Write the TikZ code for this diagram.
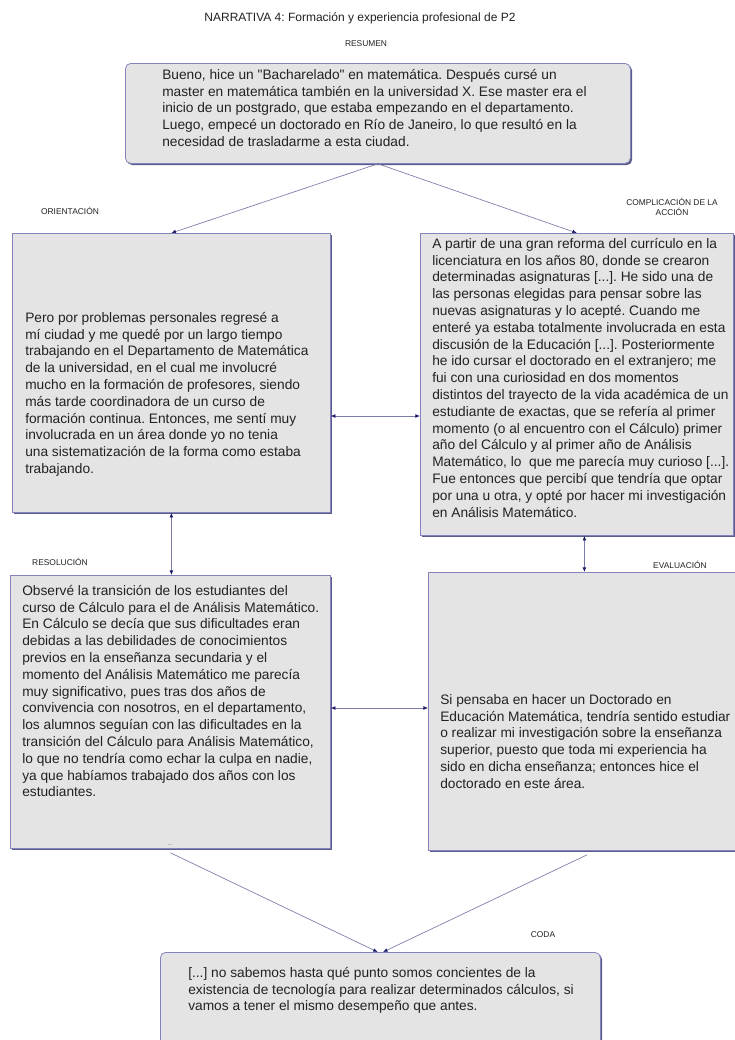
\documentclass[tikz,border=0pt]{standalone}
\usepackage{fontspec}
\setmainfont{Liberation Sans}
\usetikzlibrary{arrows.meta,shadows}
\frenchspacing

\definecolor{boxfill}{HTML}{E4E4E4}
\definecolor{boxline}{HTML}{8484BC}
\definecolor{boxshadow}{HTML}{5C5C8C}
\definecolor{linkline}{HTML}{7C7CA8}
\definecolor{tipcol}{HTML}{1C1C6A}
\definecolor{inktext}{HTML}{222222}

\tikzset{
  box/.style={draw=boxline, fill=boxfill, line width=0.6pt, inner sep=0pt,
    anchor=north west,
    drop shadow={shadow xshift=1.3pt, shadow yshift=-1.3pt, fill=boxshadow, opacity=1}},
  roundbox/.style={box, rounded corners=4pt},
  bodytext/.style={inner sep=0pt, align=left, anchor=north west, text=inktext,
    font=\fontsize{10.3}{12.6}\selectfont},
  partlabel/.style={inner sep=0pt, align=center, text=inktext,
    font=\fontsize{6.3}{7.8}\selectfont},
  headtitle/.style={inner sep=0pt, text=inktext, font=\fontsize{9}{11}\selectfont},
  tip/.tip={Latex[length=3.4pt,width=2.8pt,color=tipcol]},
  link/.style={draw=linkline, line width=0.5pt, -tip},
  twoway/.style={draw=linkline, line width=0.5pt, tip-tip},
}

\begin{document}
\begin{tikzpicture}[x=0.75pt,y=-0.75pt]
\useasboundingbox[fill=white] (0,0) rectangle (735,1040);

% headings
\node[headtitle] (title) at (360,18) {NARRATIVA 4: Formación y experiencia profesional de P2};
\node[partlabel] (lresumen) at (366,44) {RESUMEN};
\node[partlabel] (lorient) at (70,211) {ORIENTACIÓN};
\node[partlabel] (lcompl) at (672,207) {COMPLICACIÓN DE LA\\ACCIÓN};
\node[partlabel] (lresol) at (60,562) {RESOLUCIÓN};
\node[partlabel] (leval) at (680,565) {EVALUACIÓN};
\node[partlabel] (lcoda) at (543,935) {CODA};

% boxes
\node[roundbox, minimum width={505*0.75pt}, minimum height={100*0.75pt}] (resumen) at (125,63) {};
\node[box, minimum width={318*0.75pt}, minimum height={279*0.75pt}] (orient) at (12,233) {};
\node[box, minimum width={313*0.75pt}, minimum height={302*0.75pt}] (compl) at (420,233) {};
\node[box, minimum width={320*0.75pt}, minimum height={273*0.75pt}] (resol) at (10,575) {};
\node[box, minimum width={312*0.75pt}, minimum height={278*0.75pt}] (eval) at (428,572) {};
\node[roundbox, minimum width={440*0.75pt}, minimum height={110*0.75pt}] (coda) at (160,952) {};

% box texts
\node[bodytext] (tresumen) at (162,69) {Bueno, hice un \textquotedbl Bacharelado\textquotedbl{} en matemática. Después cursé un\\
master en matemática también en la universidad X. Ese master era el\\
inicio de un postgrado, que estaba empezando en el departamento.\\
Luego, empecé un doctorado en Río de Janeiro, lo que resultó en la\\
necesidad de trasladarme a esta ciudad.};

\node[bodytext] (torient) at (25,312) {Pero por problemas personales regresé a\\
mí ciudad y me quedé por un largo tiempo\\
trabajando en el Departamento de Matemática\\
de la universidad, en el cual me involucré\\
mucho en la formación de profesores, siendo\\
más tarde coordinadora de un curso de\\
formación continua. Entonces, me sentí muy\\
involucrada en un área donde yo no tenia\\
una sistematización de la forma como estaba\\
trabajando.};

\node[bodytext] (tcompl) at (432,238) {A partir de una gran reforma del currículo en la\\
licenciatura en los años 80, donde se crearon\\
determinadas asignaturas [...]. He sido una de\\
las personas elegidas para pensar sobre las\\
nuevas asignaturas y lo acepté. Cuando me\\
enteré ya estaba totalmente involucrada en esta\\
discusión de la Educación [...]. Posteriormente\\
he ido cursar el doctorado en el extranjero; me\\
fui con una curiosidad en dos momentos\\
distintos del trayecto de la vida académica de un\\
estudiante de exactas, que se refería al primer\\
momento (o al encuentro con el Cálculo) primer\\
año del Cálculo y al primer año de Análisis\\
Matemático, lo\ \ que me parecía muy curioso [...].\\
Fue entonces que percibí que tendría que optar\\
por una u otra, y opté por hacer mi investigación\\
en Análisis Matemático.};

\node[bodytext] (tresol) at (22,585) {Observé la transición de los estudiantes del\\
curso de Cálculo para el de Análisis Matemático.\\
En Cálculo se decía que sus dificultades eran\\
debidas a las debilidades de conocimientos\\
previos en la enseñanza secundaria y el\\
momento del Análisis Matemático me parecía\\
muy significativo, pues tras dos años de\\
convivencia con nosotros, en el departamento,\\
los alumnos seguían con las dificultades en la\\
transición del Cálculo para Análisis Matemático,\\
lo que no tendría como echar la culpa en nadie,\\
ya que habíamos trabajado dos años con los\\
estudiantes.};

\node[bodytext] (teval) at (440,694) {Si pensaba en hacer un Doctorado en\\
Educación Matemática, tendría sentido estudiar\\
o realizar mi investigación sobre la enseñanza\\
superior, puesto que toda mi experiencia ha\\
sido en dicha enseñanza; entonces hice el\\
doctorado en este área.};

\node[bodytext] (tcoda) at (188,967) {[...] no sabemos hasta qué punto somos concientes de la\\
existencia de tecnología para realizar determinados cálculos, si\\
vamos a tener el mismo desempeño que antes.};

\node[inner sep=0pt, text=inktext, font=\fontsize{3.5}{4}\selectfont] (dots) at (170,845) {...};

% connectors
\coordinate (rowA) at (0,416);
\coordinate (rowB) at (0,708);
\draw[link] (resumen.south) -- (orient.north);
\draw[link] (resumen.south) -- (compl.north);
\draw[twoway] (orient.east |- rowA) -- (compl.west |- rowA);
\draw[twoway] (orient.south) -- (orient.south |- resol.north);
\draw[twoway] (compl.south -| eval.north) -- (eval.north);
\draw[twoway] (resol.east |- rowB) -- (eval.west |- rowB);
\draw[link] ([yshift=-3pt]resol.south) -- ([xshift=-2pt]coda.north);
\draw[link] ([xshift=2pt,yshift=-3pt]eval.south) -- ([xshift=2pt]coda.north);
\end{tikzpicture}
\end{document}
